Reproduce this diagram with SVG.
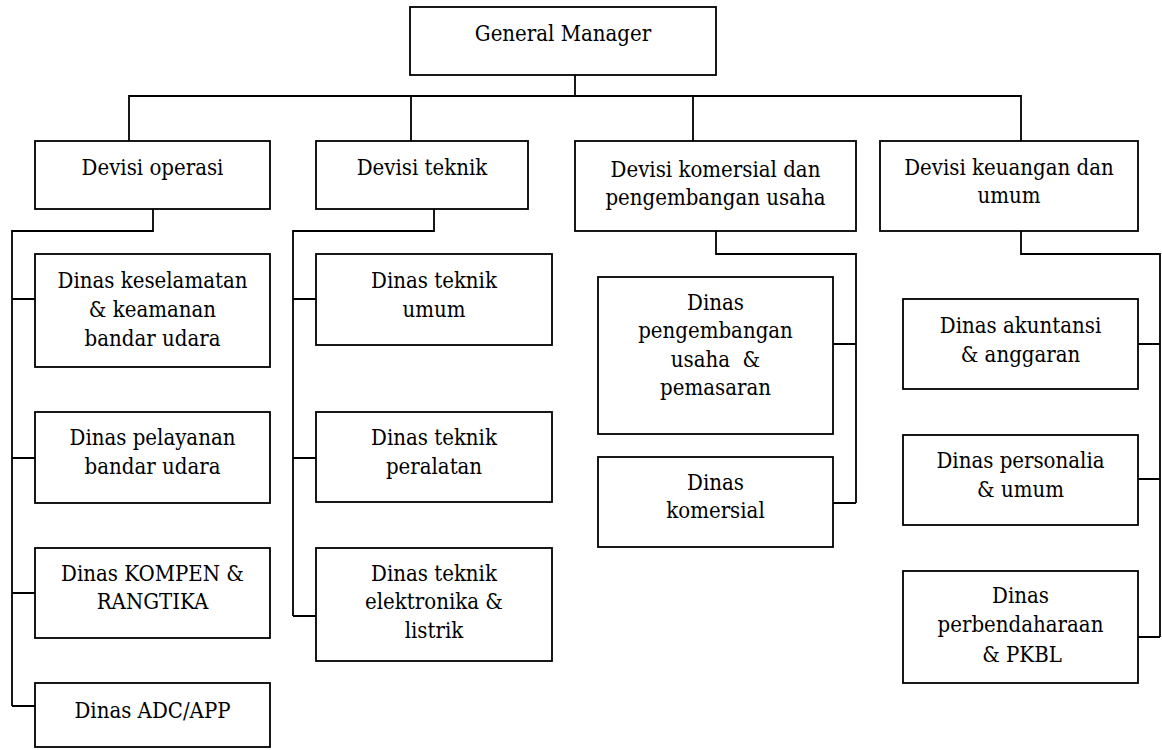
<svg xmlns="http://www.w3.org/2000/svg" width="1162" height="750" viewBox="0 0 1162 750">
<style>
rect{fill:#fff;stroke:#000;stroke-width:1.8}
.c path{fill:none;stroke:#000;stroke-width:1.8}
.t text{font-family:"DejaVu Serif Condensed","DejaVu Serif",serif;font-stretch:condensed;font-size:22px;fill:#000;text-anchor:middle}
</style>
<rect x="0" y="0" width="1162" height="750" style="stroke:none"/>
<g class="c" id="connectors">
<path d="M575 75V96M129 141V96H1021V141M411 96V141M693 96V141"/>
<path d="M153 209V231H12V706M12 299H35M12 458H35M12 593H35M12 706H35"/>
<path d="M434 209V231H293V616M293 299H316M293 458H316M293 616H316"/>
<path d="M716 231V254H856V503M833 344H856M833 503H856"/>
<path d="M1021 231V254H1160V637M1138 344H1160M1138 479H1160M1138 637H1160"/>
</g>
<g class="t">
<g id="gm"><rect x="410" y="7" width="306" height="68"/><text x="563" y="41">General Manager</text></g>
<g id="dev-operasi"><rect x="35" y="141" width="235" height="68"/><text x="152.5" y="175">Devisi operasi</text></g>
<g id="dev-teknik"><rect x="316" y="141" width="212" height="68"/><text x="422" y="175">Devisi teknik</text></g>
<g id="dev-komersial"><rect x="575" y="141" width="281" height="90"/><text x="715.5" y="177">Devisi komersial dan</text><text x="715.5" y="205">pengembangan usaha</text></g>
<g id="dev-keuangan"><rect x="880" y="141" width="258" height="90"/><text x="1009" y="175">Devisi keuangan dan</text><text x="1009" y="203">umum</text></g>
<g id="op1"><rect x="35" y="254" width="235" height="113"/><text x="152.5" y="288">Dinas keselamatan</text><text x="152.5" y="317">&amp; keamanan</text><text x="152.5" y="346">bandar udara</text></g>
<g id="op2"><rect x="35" y="412" width="235" height="91"/><text x="152.5" y="445">Dinas pelayanan</text><text x="152.5" y="474">bandar udara</text></g>
<g id="op3"><rect x="35" y="548" width="235" height="90"/><text x="152.5" y="581">Dinas KOMPEN &amp;</text><text x="152.5" y="609">RANGTIKA</text></g>
<g id="op4"><rect x="35" y="683" width="235" height="64"/><text x="152.5" y="718">Dinas ADC/APP</text></g>
<g id="tk1"><rect x="316" y="254" width="236" height="91"/><text x="434" y="288">Dinas teknik</text><text x="434" y="317">umum</text></g>
<g id="tk2"><rect x="316" y="412" width="236" height="90"/><text x="434" y="445">Dinas teknik</text><text x="434" y="474">peralatan</text></g>
<g id="tk3"><rect x="316" y="548" width="236" height="113"/><text x="434" y="581">Dinas teknik</text><text x="434" y="609">elektronika &amp;</text><text x="434" y="638">listrik</text></g>
<g id="km1"><rect x="598" y="277" width="235" height="157"/><text x="715.5" y="310">Dinas</text><text x="715.5" y="338">pengembangan</text><text x="715.5" y="367">usaha&#160; &amp;</text><text x="715.5" y="395">pemasaran</text></g>
<g id="km2"><rect x="598" y="457" width="235" height="90"/><text x="715.5" y="490">Dinas</text><text x="715.5" y="518">komersial</text></g>
<g id="ku1"><rect x="903" y="299" width="235" height="90"/><text x="1020.5" y="333">Dinas akuntansi</text><text x="1020.5" y="362">&amp; anggaran</text></g>
<g id="ku2"><rect x="903" y="435" width="235" height="90"/><text x="1020.5" y="468">Dinas personalia</text><text x="1020.5" y="497">&amp; umum</text></g>
<g id="ku3"><rect x="903" y="571" width="235" height="112"/><text x="1020.5" y="603">Dinas</text><text x="1020.5" y="632">perbendaharaan</text><text x="1022" y="662">&amp; PKBL</text></g>
</g>
</svg>
